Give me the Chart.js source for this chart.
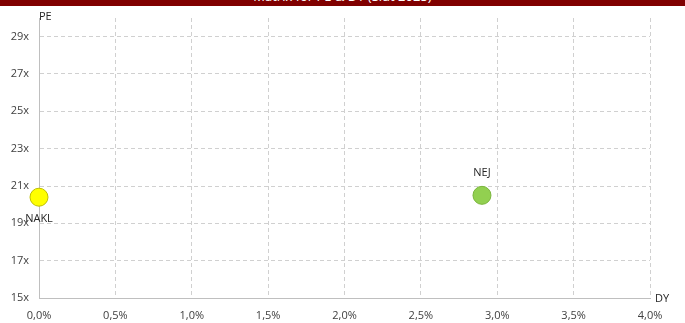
<!DOCTYPE html>
<html>
<head>
<meta charset="utf-8">
<script src="https://cdn.jsdelivr.net/npm/chart.js@4"></script>
<style>
  html, body { margin: 0; padding: 0; background: #fff; }
  #wrap { position: relative; width: 685px; height: 323px; overflow: hidden; }
  #bar {
    position: absolute; left: 0; top: 0; width: 685px; height: 6px;
    background: #800000; overflow: hidden; z-index: 2;
  }
  #bar span {
    position: absolute; left: 0; width: 685px; top: -11px;
    text-align: center; color: #fff; font: 13px "Open Sans", sans-serif; line-height: 14px;
  }
  canvas { position: absolute; left: 0; top: 0; }
</style>
</head>
<body>
<div id="wrap">
  <div id="bar"><span>Matrix for PE &amp; DY (Slut 2025)</span></div>
  <canvas id="chart" width="685" height="323"></canvas>
</div>
<script>
// companies plotted on dividend yield (%) vs P/E
const names = ["NAKL", "NEJ"];
const dyValues = [0.0, 2.9];
const peValues = [20.4, 20.5];
const colors = ["#FFFF00", "#92D050"];
const borders = ["#BFBF00", "#7AB53C"];
const labelSide = ["below", "above"];

const peTicks = [15, 17, 19, 21, 23, 25, 27, 29];
const dyTicks = [0, 0.5, 1, 1.5, 2, 2.5, 3, 3.5, 4];

const font = { family: "'Open Sans', 'Liberation Sans', sans-serif", size: 11 };

// point names and the two axis titles
const textPlugin = {
  id: "texts",
  afterDatasetsDraw(chart) {
    const ctx = chart.ctx;
    const meta = chart.getDatasetMeta(0);
    ctx.save();
    ctx.font = font.size + "px " + font.family;
    ctx.fillStyle = "#262626";
    ctx.textAlign = "center";
    ctx.textBaseline = "middle";
    meta.data.forEach((pt, i) => {
      const dy = labelSide[i] === "above" ? -22 : 22;
      ctx.fillText(names[i], pt.x, pt.y + dy);
    });
    const area = chart.chartArea;
    ctx.textAlign = "left";
    ctx.fillText("PE", area.left, area.top - 1);
    ctx.fillText("DY", area.right + 5, area.bottom + 1);
    ctx.restore();
  }
};

new Chart(document.getElementById("chart"), {
  type: "scatter",
  data: {
    datasets: [{
      data: dyValues.map((x, i) => ({ x: x, y: peValues[i] })),
      backgroundColor: colors,
      borderColor: borders,
      borderWidth: 1,
      pointRadius: 9,
      pointHoverRadius: 9,
      clip: false
    }]
  },
  options: {
    responsive: false,
    animation: false,
    layout: { padding: { top: 18, right: 35, left: 0, bottom: 0 } },
    plugins: { legend: { display: false }, tooltip: { enabled: false } },
    scales: {
      x: {
        min: 0, max: 4,
        afterBuildTicks: s => { s.ticks = dyTicks.map(v => ({ value: v })); },
        ticks: {
          color: "#404040", font: font, padding: 11,
          callback: v => v.toFixed(1).replace(".", ",") + "%"
        },
        grid: { color: "#D0D0D0", drawTicks: false },
        border: { color: "#BFBFBF", dash: [4, 3] },
        afterFit: s => { s.height = 25; }
      },
      y: {
        min: 15, max: 30,
        afterBuildTicks: s => { s.ticks = peTicks.map(v => ({ value: v })); },
        ticks: {
          color: "#404040", font: font, padding: 10,
          callback: v => v + "x"
        },
        grid: { color: "#D0D0D0", drawTicks: false },
        border: { color: "#BFBFBF", dash: [4, 3] },
        afterFit: s => { s.width = 39; }
      }
    }
  },
  plugins: [textPlugin]
});
</script>
</body>
</html>
